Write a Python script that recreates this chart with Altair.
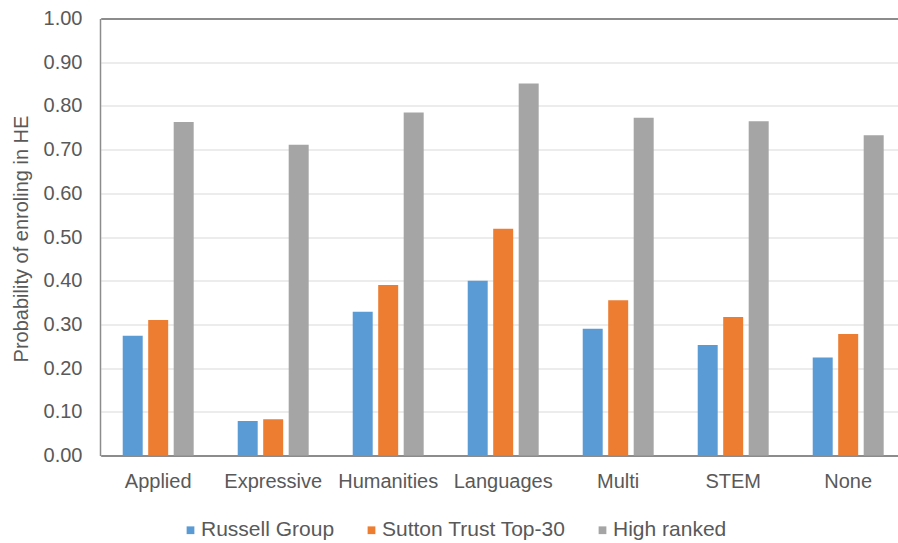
import altair as alt
import pandas as pd

# Subject groups on the x axis
categories = ["Applied", "Expressive", "Humanities", "Languages", "Multi", "STEM", "None"]

# Probability of enrolling, one list per university group
series_names = ["Russell Group", "Sutton Trust Top-30", "High ranked"]
russell = [0.274, 0.079, 0.329, 0.400, 0.290, 0.253, 0.224]
sutton = [0.310, 0.083, 0.390, 0.519, 0.355, 0.317, 0.278]
high_ranked = [0.763, 0.711, 0.785, 0.851, 0.773, 0.765, 0.733]

series_colors = ["#5b9bd5", "#ed7d31", "#a5a5a5"]
y_ticks = [0.0, 0.1, 0.2, 0.3, 0.4, 0.5, 0.6, 0.7, 0.8, 0.9, 1.0]

rows = []
for name, values in zip(series_names, [russell, sutton, high_ranked]):
    for cat, v in zip(categories, values):
        rows.append({"category": cat, "series": name, "value": v})
df = pd.DataFrame(rows)

FONT = "Liberation Sans"
TEXT = "#595959"
AXIS_LINE = "#8c8c8c"

chart = (
    alt.Chart(df)
    .mark_bar()
    .encode(
        x=alt.X(
            "category:N",
            sort=categories,
            scale=alt.Scale(range=[0.7, 805.7], paddingInner=0.335, paddingOuter=0.1675),
            axis=alt.Axis(
                title=None,
                labelAngle=0,
                ticks=False,
                tickSize=0,
                labelPadding=15.5,
                labelFontSize=20,
                labelColor=TEXT,
                labelFont=FONT,
                domainColor=AXIS_LINE,
                domainWidth=2,
            ),
        ),
        xOffset=alt.XOffset(
            "series:N",
            sort=series_names,
            scale=alt.Scale(paddingInner=0.216, paddingOuter=0.108),
        ),
        y=alt.Y(
            "value:Q",
            scale=alt.Scale(domain=[0, 1]),
            axis=alt.Axis(
                values=y_ticks,
                format=".2f",
                title="Probability of enroling in HE",
                titleFont=FONT,
                titleFontSize=20,
                titleFontWeight="normal",
                titleColor=TEXT,
                titleAngle=270,
                titleAlign="center",
                titleBaseline="alphabetic",
                titleX=-73,
                titleY=220,
                ticks=False,
                tickSize=0,
                labelPadding=18,
                labelFontSize=20,
                labelColor=TEXT,
                labelFont=FONT,
                domainColor=AXIS_LINE,
                domainWidth=1.5,
                gridColor=alt.condition("datum.value === 1", alt.value(AXIS_LINE), alt.value("#d9d9d9")),
                gridWidth=alt.condition("datum.value === 1", alt.value(2), alt.value(1.2)),
            ),
        ),
        color=alt.Color(
            "series:N",
            sort=series_names,
            scale=alt.Scale(domain=series_names, range=series_colors),
            legend=alt.Legend(
                title=None,
                orient="none",
                direction="horizontal",
                legendX=80,
                legendY=501,
                padding=0,
                symbolType="square",
                symbolSize=60,
                symbolStrokeWidth=0,
                labelFont=FONT,
                labelFontSize=21,
                labelColor=TEXT,
                labelLimit=400,
                labelOffset=0,
                columnPadding=26,
            ),
        ),
    )
    .properties(
        width=798,
        height=437,
        autosize=alt.AutoSizeParams(type="none"),
        padding={"left": 100, "top": 18.5, "right": 0, "bottom": 87.5},
    )
    .configure_view(stroke=None)
    .configure(background="white")
)

chart.save("out.html", embed_options={"renderer": "svg", "actions": False})
